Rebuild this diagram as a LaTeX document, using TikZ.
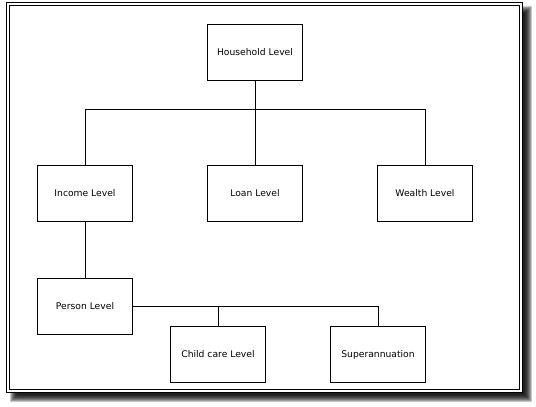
\documentclass[tikz,border=0pt]{standalone}
\usepackage{fontspec}
\setmainfont{DejaVu Sans}
\usepackage{tikz}
\usetikzlibrary{calc,positioning}

\begin{document}
\begin{tikzpicture}[x=1pt,y=-1pt]

\tikzset{
  levelbox/.style={rectangle, draw=black, line width=0.9pt, fill=white,
                  font=\fontsize{9.2}{11}\selectfont, align=center,
                  minimum width=95pt, minimum height=56pt, inner sep=1pt},
  link/.style={black, line width=0.9pt},
  frameline/.style={black, line width=1.3pt}
}

\useasboundingbox (0,0) rectangle (536,407);

% Shadow and frame
\foreach \r in {0,...,7}{
  \fill[black, opacity=0.22] (10+\r,6+\r) rectangle (532-\r,402-\r);
}
\fill[white] (6.5,2.5) rectangle (522.5,392.5);
\draw[frameline] (6.5,2.5) rectangle (522.5,392.5);
\draw[frameline] (9.5,5.5) rectangle (519.5,389.5);

% Top
\node[levelbox] (house) at (255, 52) {Household Level};
\coordinate (split) at (255, 109);

% Level 2
\node[levelbox] (income) at ( 85, 193) {Income Level};
\node[levelbox] (loan)   at (255, 193) {Loan Level};
\node[levelbox] (wealth) at (425, 193) {Wealth Level};

% Level 3
\node[levelbox] (person) at ( 85, 306.5) {Person Level};

% Level 4
\node[levelbox] (child) at (218, 354.5) {Child care Level};
\node[levelbox] (super) at (378, 354.5) {Superannuation};

% Lines
\draw[link] (house.south) -- (split);
\draw[link] (split) -| (income.north);
\draw[link] (split) -- (loan.north);
\draw[link] (split) -| (wealth.north);

\draw[link] (income.south) -- (person.north);

\draw[link] (person.east) -| (super.north);
\draw[link] (child.north) -- (child.north |- person.east);

\end{tikzpicture}
\end{document}
